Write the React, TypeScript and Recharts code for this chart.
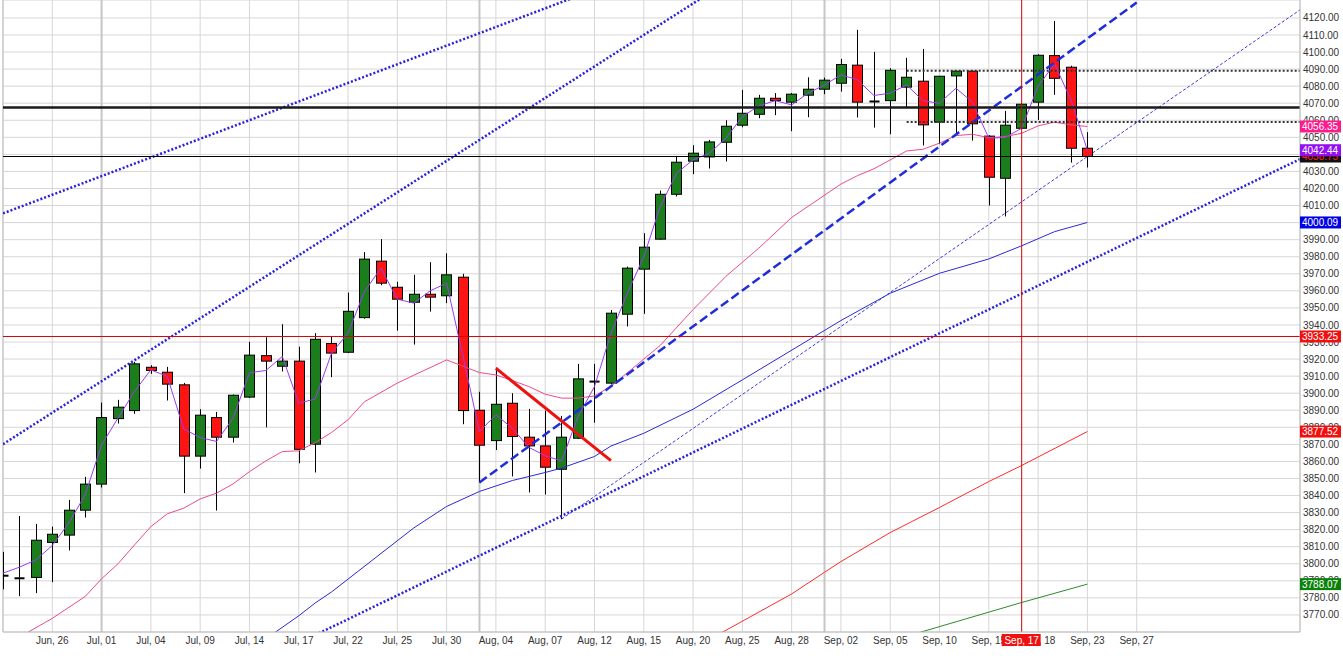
import React from 'react';
import { ComposedChart, Bar, Line, XAxis, YAxis, CartesianGrid, ReferenceLine } from 'recharts';

// eje X: un índice por vela, etiqueta cada 3 velas
const tickIndex = [3, 6, 9, 12, 15, 18, 21, 24, 27, 30, 33, 36, 39, 42, 45, 48, 51, 54, 57, 60, 63, 66, 69];
const tickLabels = [
  'Jun, 26', 'Jul, 01', 'Jul, 04', 'Jul, 09', 'Jul, 14', 'Jul, 17', 'Jul, 22', 'Jul, 25', 'Jul, 30',
  'Aug, 04', 'Aug, 07', 'Aug, 12', 'Aug, 15', 'Aug, 20', 'Aug, 25', 'Aug, 28', 'Sep, 02', 'Sep, 05',
  'Sep, 10', 'Sep, 15', 'Sep, 18', 'Sep, 23', 'Sep, 27',
];
const monthStarts = [6, 29, 50];

const priceTicks = [
  3770, 3780, 3790, 3800, 3810, 3820, 3830, 3840, 3850, 3860, 3870, 3880, 3890, 3900, 3910, 3920, 3930, 3940,
  3950, 3960, 3970, 3980, 3990, 4000, 4010, 4020, 4030, 4040, 4050, 4060, 4070, 4080, 4090, 4100, 4110, 4120,
];

// velas (OHLC)
const opens = [
  3793, 3791.5, 3792, 3812.5, 3816.8, 3831.4, 3846.7, 3885.1, 3889.8, 3915.2, 3912.3, 3904.9, 3863.1, 3885.7,
  3874.2, 3897.7, 3922, 3915.8, 3918.8, 3870.1, 3929.1, 3924, 3944.3, 3977.4, 3962.1, 3953.3, 3958, 3957.1,
  3968, 3890, 3872.2, 3894.1, 3874.2, 3869.1, 3855.4, 3873.6, 3906.6, 3905.9, 3946.3, 3972.7, 3990.3, 4016.6,
  4036, 4038.5, 4047.1, 4057.1, 4063.5, 4072.9, 4070.6, 4074.7, 4078.2, 4081.7, 4092.3, 4071, 4071.5, 4079.4,
  4082.9, 4058.9, 4086, 4088.8, 4050.7, 4026, 4055.3, 4070.6, 4097.9, 4091.1, 4043.6,
];
const highs = [
  3807, 3828, 3823.4, 3821.8, 3837.5, 3851, 3894.5, 3896.1, 3918.4, 3916.4, 3915.4, 3906, 3890.6, 3889,
  3899.2, 3930.1, 3932.8, 3940.4, 3927.3, 3935.2, 3933.4, 3959, 3982.7, 3990.3, 3965.3, 3969.4, 3976.8, 3982,
  3970, 3900.8, 3915, 3900, 3890.8, 3889.8, 3886.7, 3917.2, 3917.2, 3948.8, 3974.2, 3993.8, 4018.8, 4039.1,
  4045.4, 4048.5, 4060, 4077.8, 4074.9, 4075.9, 4076, 4085.2, 4085, 4096, 4113, 4100.1, 4090.5, 4096.6,
  4101.8, 4086, 4089, 4089.2, 4051.2, 4065.5, 4070, 4098.7, 4118.2, 4092, 4053,
];
const lows = [
  3785, 3781, 3782.8, 3789.2, 3807.8, 3827.1, 3844.7, 3882.2, 3887.9, 3911.3, 3895.7, 3841.4, 3855.8, 3831.2,
  3871.1, 3897.2, 3880, 3912.7, 3858.9, 3853.5, 3909.4, 3923.5, 3943.7, 3963.3, 3936.7, 3928.5, 3947.8, 3952.8,
  3881.8, 3847.6, 3866.7, 3851.2, 3841.8, 3840.6, 3826.2, 3873.2, 3882.7, 3905.3, 3939.1, 3946.5, 3990, 4015.3,
  4028.4, 4031.7, 4035.8, 4055.9, 4061.2, 4063, 4053.6, 4061.8, 4075.3, 4076.8, 4061.6, 4055.7, 4051.8, 4067.1,
  4045.2, 4046, 4052.4, 4048.1, 4010, 4003.6, 4055, 4060.2, 4074.9, 4035.2, 4032.3,
];
const closes = [
  3792.5, 3791.5, 3813.8, 3817.3, 3831.4, 3846.7, 3885.7, 3891.8, 3917.2, 3913.3, 3905.3, 3863.1, 3887.1, 3874.2,
  3898.8, 3922.3, 3918.8, 3918.8, 3867.1, 3931.6, 3923.5, 3948, 3978.6, 3964.5, 3955.1, 3958, 3956.3, 3969.4,
  3889.8, 3869.5, 3893.5, 3874.6, 3869.1, 3856.6, 3874.2, 3908.4, 3906.8, 3946.9, 3973.3, 3985.6, 4016.6, 4035.4,
  4040.7, 4047.3, 4056.5, 4064.1, 4072.9, 4071.5, 4075.3, 4078.2, 4083.5, 4092.7, 4070.6, 4071, 4089.3, 4085.2,
  4057.3, 4085.8, 4088.8, 4057.9, 4026.6, 4057.1, 4069.4, 4098.1, 4084.6, 4043.6, 4038.75,
];

// medias móviles: [índice, valor]
const maFast = [
  3794.5, 3798, 3802.3, 3810.7, 3823.8, 3840.4, 3869.7, 3885.4, 3901, 3913.7, 3909.8, 3879, 3874, 3871.7,
  3885.3, 3912, 3913.3, 3921.5, 3894.2, 3896.6, 3923.5, 3935.2, 3959.6, 3973.3, 3955.1, 3952.8, 3960, 3964.5,
  3921.5, 3877.5, 3887.3, 3879.5, 3868.3, 3863.3, 3860.3, 3886.3, 3903.9, 3935, 3958.6, 3980, 4009.4, 4029,
  4036.8, 4040.7, 4049.5, 4062.1, 4068.4, 4071.5, 4069, 4075.9, 4080.7, 4086.6, 4083.8, 4074.5, 4075.9, 4080.7,
  4071.4, 4070, 4078.8, 4070.6, 4049.5, 4049.9, 4055.3, 4080, 4093, 4072, 4042.44,
];
const ma20Points: [number, number][] = [
  [1, 3757], [3, 3768], [5, 3780.8], [6, 3791.2], [7, 3800], [8, 3811], [9, 3821.8], [10, 3829.3], [11, 3832.6],
  [12, 3838], [13, 3841.4], [14, 3846.8], [15, 3854], [16, 3860.3], [17, 3865.8], [18, 3866.2], [19, 3871],
  [20, 3877], [21, 3884.4], [22, 3895], [24, 3905.9], [25, 3910.5], [27, 3919.5], [29, 3912.1], [30, 3910.7],
  [31, 3907.4], [32, 3903.9], [33, 3899.4], [34, 3897.1], [35, 3897.1], [36, 3898.4], [37, 3904], [40, 3928],
  [42, 3949], [44, 3968.5], [46, 3985], [48, 4003], [51, 4022.6], [52, 4027.5], [53, 4031.5], [55, 4042],
  [56, 4043], [57, 4046.6], [58, 4051], [59, 4051.8], [60, 4049.8], [61, 4050.4], [62, 4052.4], [63, 4056.7],
  [64, 4058.9], [65, 4057.3], [66, 4056.35],
];
const ma50Points: [number, number][] = [
  [16, 3756], [18, 3769.5], [19, 3777], [20, 3783.5], [25, 3821], [27, 3833.6], [29, 3842.4], [31, 3848.8],
  [33, 3853.5], [34, 3856.1], [36, 3862.9], [37, 3869], [39, 3876.5], [42, 3890.6], [45, 3907.8], [49, 3931],
  [51, 3942.6], [54, 3958.6], [57, 3970.3], [60, 3978.7], [62, 3986.4], [64, 3994.7], [66, 4000.09],
];
const ma100Points: [number, number][] = [
  [43, 3756], [44, 3761], [48, 3782.3], [50, 3795], [51, 3801.3], [54, 3818.3], [57, 3833], [60, 3848.2],
  [62, 3857.6], [66, 3877.52],
];
const ma200Points: [number, number][] = [[55, 3757.5], [62, 3777.3], [66, 3788.07]];

// líneas de tendencia dibujadas: [índice, valor]
const upperChannel = [[0, 4005.4], [35, 4132.9]];
const middleChannel = [[0, 3870.1], [43, 4134.6]];
const lowerChannel = [[19, 3758.2], [79, 4037.5]];
const dashedTrend = [[29, 3847.7], [69, 4129]];
const thinTrend = [[34, 3826.2], [79, 4125.1]];
const redTrend = [[30, 3914.6], [37, 3860.5]];

// niveles horizontales
const resistance = 4067.5;
const lastClose = 4038.75;
const dottedLevels = [4089, 4059];
const dottedFrom = 55;
const crossPrice = 3933.25;
const crossIndex = 62;
const crossLabel = 'Sep, 17';

// etiquetas de precio en el eje derecho
const tagValues = [4038.75, 4056.35, 4042.44, 4000.09, 3933.25, 3877.52, 3788.07];
const tagBg = ['#111111', '#ff1a8c', '#9410f0', '#0000e6', '#f01010', '#f01010', '#0a820a'];
const tagFg = ['#ff2020', '#ffffff', '#ffffff', '#ffffff', '#ffffff', '#ffffff', '#ffffff'];

const FONT = "'Liberation Sans', Arial, sans-serif";
const PLOT_RIGHT = 1300;
const PLOT_BOTTOM = 632;

const lookup = (pts: [number, number][]) => {
  const m = new Map(pts);
  return (i: number) => (m.has(i) ? m.get(i) : null);
};
const ma20At = lookup(ma20Points);
const ma50At = lookup(ma50Points);
const ma100At = lookup(ma100Points);
const ma200At = lookup(ma200Points);

const rows = opens.map((o, i) => ({
  i,
  o,
  h: highs[i],
  l: lows[i],
  c: closes[i],
  range: [lows[i], highs[i]],
  maFast: maFast[i],
  ma20: ma20At(i),
  ma50: ma50At(i),
  ma100: ma100At(i),
  ma200: ma200At(i),
}));

const labelOf = (v: number) => {
  const k = tickIndex.indexOf(v);
  return k >= 0 ? tickLabels[k] : '';
};

const Candle = (props: any) => {
  const { x, y, width, height, payload } = props;
  if (!payload || height == null) return null;
  const { o, h, l, c } = payload;
  const top = Math.min(y, y + height);
  const span = Math.abs(height);
  const k = span / (h - l);
  const cx = Math.round(x + width / 2) + 0.5;
  const bodyTop = top + (h - Math.max(o, c)) * k;
  const bodyBottom = top + (h - Math.min(o, c)) * k;
  const doji = Math.abs(o - c) < 0.6;
  return (
    <g>
      <line x1={cx} x2={cx} y1={top} y2={top + span} stroke="#000" strokeWidth={1} />
      {doji ? (
        <line x1={cx - 5} x2={cx + 5} y1={bodyTop} y2={bodyTop} stroke="#000" strokeWidth={2} />
      ) : (
        <rect
          x={cx - 5}
          y={bodyTop}
          width={10}
          height={Math.max(bodyBottom - bodyTop, 1)}
          fill={c >= o ? '#1c7d1c' : '#ff1414'}
          stroke="#000"
          strokeWidth={1}
        />
      )}
    </g>
  );
};

// etiqueta de precio, dibujada como tick de un segundo eje Y
const PriceTag = (props: any) => {
  const { y, payload, index } = props;
  const k = payload && tagValues.indexOf(payload.value) >= 0 ? tagValues.indexOf(payload.value) : index;
  if (k == null || k < 0 || k >= tagValues.length) return null;
  return (
    <g>
      <rect x={PLOT_RIGHT} y={y - 6} width={41} height={12} fill={tagBg[k]} />
      <text x={PLOT_RIGHT + 2} y={y + 3.5} fontSize={10} fontFamily={FONT} fill={tagFg[k]}>
        {tagValues[k].toFixed(2)}
      </text>
    </g>
  );
};

// etiqueta de fecha del cursor, tick de un segundo eje X
const DateTag = (props: any) => {
  const { x } = props;
  return (
    <g>
      <rect x={x - 20} y={PLOT_BOTTOM + 2} width={39} height={12} fill="#f01010" />
      <text x={x} y={PLOT_BOTTOM + 11.5} fontSize={10} fontFamily={FONT} fill="#fff" textAnchor="middle">
        {crossLabel}
      </text>
    </g>
  );
};

const seg = (p: number[][]) => [
  { x: p[0][0], y: p[0][1] },
  { x: p[1][0], y: p[1][1] },
];

export default function App() {
  return (
    <div style={{ position: 'absolute', left: 0, top: 0, background: '#fff' }}>
      <ComposedChart width={1343} height={662} data={rows} margin={{ top: 0, right: 0, bottom: 0, left: 3 }}>
        <CartesianGrid stroke="#d6d6d6" strokeWidth={1} />
        <CartesianGrid horizontal={false} verticalValues={monthStarts} stroke="#c6c6c6" strokeWidth={2} />
        <CartesianGrid horizontal={false} verticalValues={[0]} stroke="#bdbdbd" strokeWidth={1} />
        <XAxis
          dataKey="i"
          type="number"
          domain={[0, 78.94]}
          ticks={tickIndex}
          interval={0}
          allowDataOverflow
          tickFormatter={labelOf}
          tick={{ fontSize: 10, fill: '#333', fontFamily: FONT }}
          tickLine={false}
          tickSize={0}
          tickMargin={5}
          axisLine={{ stroke: '#bdbdbd' }}
          height={29}
        />
        <XAxis
          xAxisId="cursor"
          dataKey="i"
          type="number"
          domain={[0, 78.94]}
          ticks={[crossIndex]}
          interval={0}
          allowDataOverflow
          tick={(p: any) => <DateTag {...p} />}
          tickLine={false}
          axisLine={false}
          height={1}
        />
        <YAxis
          orientation="right"
          type="number"
          domain={[3760, 4130.5]}
          ticks={priceTicks}
          interval={0}
          allowDataOverflow
          width={42}
          tickFormatter={(v: number) => v.toFixed(2)}
          tick={{ fontSize: 10, fill: '#333', fontFamily: FONT }}
          tickLine={false}
          tickSize={0}
          tickMargin={3}
          axisLine={{ stroke: '#bdbdbd' }}
        />
        <YAxis
          yAxisId="tags"
          orientation="right"
          type="number"
          domain={[3760, 4130.5]}
          ticks={tagValues}
          interval={0}
          allowDataOverflow
          width={1}
          tick={(p: any) => <PriceTag {...p} />}
          tickLine={false}
          axisLine={false}
        />

        <Bar dataKey="range" barSize={10} shape={(p: any) => <Candle {...p} />} isAnimationActive={false} />

        <Line dataKey="ma200" stroke="#2e8b2e" strokeWidth={1} dot={false} activeDot={false} connectNulls isAnimationActive={false} />
        <Line dataKey="ma100" stroke="#ff2b2b" strokeWidth={1} dot={false} activeDot={false} connectNulls isAnimationActive={false} />
        <Line dataKey="ma50" stroke="#2a2ad5" strokeWidth={1} dot={false} activeDot={false} connectNulls isAnimationActive={false} />
        <Line dataKey="ma20" stroke="#ec4a90" strokeWidth={1} dot={false} activeDot={false} connectNulls isAnimationActive={false} />
        <Line dataKey="maFast" stroke="#9a3cf0" strokeWidth={1} dot={false} activeDot={false} isAnimationActive={false} />

        <ReferenceLine segment={seg(upperChannel)} stroke="#2a22d8" strokeWidth={2.5} strokeDasharray="2 2" ifOverflow="hidden" />
        <ReferenceLine segment={seg(middleChannel)} stroke="#2a22d8" strokeWidth={2.5} strokeDasharray="2 2" ifOverflow="hidden" />
        <ReferenceLine segment={seg(lowerChannel)} stroke="#2a22d8" strokeWidth={2.5} strokeDasharray="2 2" ifOverflow="hidden" />
        <ReferenceLine segment={seg(dashedTrend)} stroke="#1f2ed8" strokeWidth={2.5} strokeDasharray="9 4" ifOverflow="hidden" />
        <ReferenceLine segment={seg(thinTrend)} stroke="#3a3ad8" strokeWidth={1} strokeDasharray="3 2" ifOverflow="hidden" />
        <ReferenceLine segment={seg(redTrend)} stroke="#ee1111" strokeWidth={3} ifOverflow="hidden" />

        <ReferenceLine y={resistance} stroke="#1a1a1a" strokeWidth={2.5} />
        <ReferenceLine y={lastClose} stroke="#000" strokeWidth={1.2} />
        {dottedLevels.map((v) => (
          <ReferenceLine
            key={`d-${v}`}
            segment={[{ x: dottedFrom, y: v }, { x: 79, y: v }]}
            stroke="#333"
            strokeWidth={2}
            strokeDasharray="2 2"
            ifOverflow="hidden"
          />
        ))}
        <ReferenceLine y={crossPrice} stroke="#d40000" strokeWidth={1} />
        <ReferenceLine x={crossIndex} stroke="#d40000" strokeWidth={1} />
      </ComposedChart>
    </div>
  );
}
